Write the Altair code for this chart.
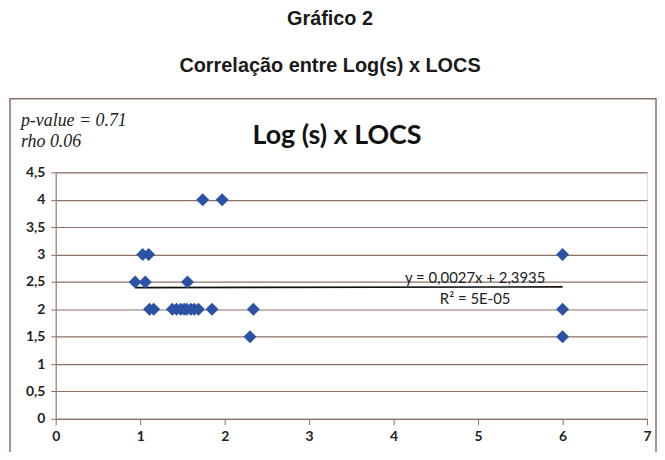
import altair as alt
import pandas as pd

# Data
locs_x = [1.74, 1.97, 1.03, 1.10, 0.94, 1.06, 1.56, 1.11, 1.16, 1.38, 1.43, 1.48,
          1.52, 1.55, 1.60, 1.64, 1.69, 1.85, 2.34, 2.30, 6.0, 6.0, 6.0]
logs_y = [4, 4, 3, 3, 2.5, 2.5, 2.5, 2, 2, 2, 2, 2, 2, 2, 2, 2, 2, 2, 2, 1.5, 3, 2, 1.5]
trend_x = [0.94, 6.0]
trend_y = [2.396, 2.410]
x_ticks = [0, 1, 2, 3, 4, 5, 6, 7]
y_ticks = [0, 0.5, 1, 1.5, 2, 2.5, 3, 3.5, 4, 4.5]

BROWN = "#8c7064"
BLUE = "#2c52a3"

pts = pd.DataFrame({"x": locs_x, "y": logs_y})
trend = pd.DataFrame({"x": trend_x, "y": trend_y})
one = pd.DataFrame({"a": [0]})

xs = alt.Scale(domain=[0, 7], nice=False, zero=False)
ys = alt.Scale(domain=[0, 4.5], nice=False, zero=False)

xaxis = alt.Axis(values=x_ticks, grid=False, title=None, domainColor=BROWN, tickColor=BROWN,
                 tickSize=6, format="d", labelFlush=False, labelOverlap=False,
                 labelFont="Lato", labelFontWeight="bold", labelFontSize=14,
                 labelColor="#222222", labelPadding=5)
yaxis = alt.Axis(values=y_ticks, grid=True, gridColor=BROWN, gridWidth=1.2, title=None,
                 domainColor=BROWN, tickColor=BROWN, tickSize=5, labelOverlap=False,
                 labelFlush=False,
                 labelExpr="replace(toString(datum.value), '.', ',')",
                 labelFont="Lato", labelFontWeight="bold", labelFontSize=14,
                 labelColor="#222222", labelPadding=6)

points = alt.Chart(pts).mark_point(shape="diamond", filled=True, size=170, color=BLUE, opacity=1).encode(
    x=alt.X("x:Q", scale=xs, axis=xaxis),
    y=alt.Y("y:Q", scale=ys, axis=yaxis),
)

line = alt.Chart(trend).mark_line(color="#111111", strokeWidth=1.6).encode(
    x=alt.X("x:Q", scale=xs, axis=xaxis), y=alt.Y("y:Q", scale=ys, axis=yaxis)
)

eq = alt.Chart(one).mark_text(font="Lato", fontSize=15, color="#222222").encode(
    x=alt.value(422), y=alt.value(106), text=alt.value("y = 0,0027x + 2,3935"))
r2 = alt.Chart(one).mark_text(font="Lato", fontSize=15, color="#222222").encode(
    x=alt.value(422), y=alt.value(127), text=alt.value("R² = 5E-05"))

frame = alt.Chart(one).mark_rect(fillOpacity=0, stroke=BROWN, strokeWidth=1.5).encode(
    x=alt.value(-46), x2=alt.value(604), y=alt.value(-74), y2=alt.value(300))

inner_title = alt.Chart(one).mark_text(font="Lato", fontWeight="bold", fontSize=27, color="#111111").encode(
    x=alt.value(283), y=alt.value(-37), text=alt.value("Log (s) x LOCS"))
pval = alt.Chart(one).mark_text(font="Liberation Serif", fontStyle="italic", fontSize=18,
                                color="#222222", align="left").encode(
    x=alt.value(-35), y=alt.value(-52), text=alt.value("p-value = 0.71"))
rho = alt.Chart(one).mark_text(font="Liberation Serif", fontStyle="italic", fontSize=18,
                               color="#222222", align="left").encode(
    x=alt.value(-35), y=alt.value(-31), text=alt.value("rho 0.06"))

t1 = alt.Chart(one).mark_text(font="Liberation Sans", fontWeight="bold", fontSize=20, color="#1a1a1a").encode(
    x=alt.value(276), y=alt.value(-154), text=alt.value("Gráfico 2"))
t2 = alt.Chart(one).mark_text(font="Liberation Sans", fontWeight="bold", fontSize=20, color="#1a1a1a").encode(
    x=alt.value(276), y=alt.value(-107), text=alt.value("Correlação entre Log(s) x LOCS"))

chart = alt.layer(frame, t1, t2, inner_title, pval, rho, line, points, eq, r2).properties(
    width=595, height=248,
    autosize=alt.AutoSizeParams(type="none"),
    padding={"left": 48, "top": 164, "right": 10, "bottom": 32},
).configure_view(stroke=None).configure(background="white")

chart.save("out.html", embed_options={"renderer": "svg", "actions": False})
